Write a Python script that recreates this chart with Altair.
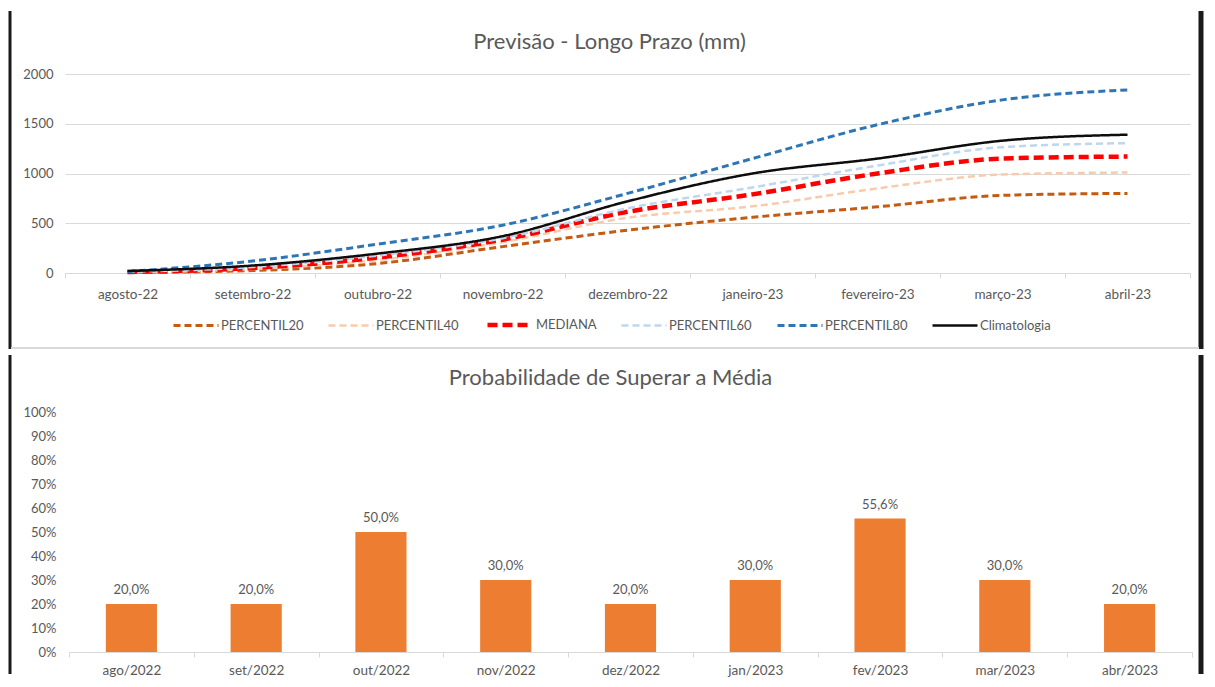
import altair as alt
import pandas as pd

# ---------------- data ----------------
meses = ["agosto-22", "setembro-22", "outubro-22", "novembro-22", "dezembro-22",
         "janeiro-23", "fevereiro-23", "março-23", "abril-23"]
series_names = ["PERCENTIL20", "PERCENTIL40", "MEDIANA", "PERCENTIL60", "PERCENTIL80", "Climatologia"]
percentil20 = [5, 25, 95, 265, 430, 560, 665, 780, 800]
percentil40 = [8, 40, 130, 310, 555, 670, 850, 990, 1010]
mediana = [10, 50, 155, 335, 615, 790, 1000, 1150, 1170]
percentil60 = [12, 60, 175, 350, 650, 860, 1080, 1265, 1305]
percentil80 = [15, 120, 290, 480, 800, 1150, 1490, 1740, 1840]
climatologia = [20, 75, 195, 370, 720, 1000, 1150, 1330, 1390]

meses_bar = ["ago/2022", "set/2022", "out/2022", "nov/2022", "dez/2022",
             "jan/2023", "fev/2023", "mar/2023", "abr/2023"]
prob_superar = [20.0, 20.0, 50.0, 30.0, 20.0, 30.0, 55.6, 30.0, 20.0]

# ---------------- styles ----------------
series_colors = ["#C55A11", "#F8CBAD", "#FF0000", "#BDD7EE", "#2E75B6", "#0D0D0D"]
series_dash = [[7, 4], [7, 4], [10, 5], [7, 4], [7, 4], [1, 0]]
series_width = [3, 2.5, 4.5, 2.5, 3, 2.5]
FONT = "Lato"
GRAY = "#595959"
LIGHT = "#D9D9D9"
FRAME = "#1A1A1A"

series_values = [percentil20, percentil40, mediana, percentil60, percentil80, climatologia]
rows = []
for name, vals in zip(series_names, series_values):
    for m, v in zip(meses, vals):
        rows.append({"mes": m, "serie": name, "valor": v})
df_lines = pd.DataFrame(rows)

df_bar = pd.DataFrame({"mes": meses_bar, "prob": prob_superar})
df_bar["frac"] = df_bar["prob"] / 100.0
df_bar["rotulo"] = [f"{v:.1f}".replace(".", ",") + "%" for v in prob_superar]

one = pd.DataFrame({"k": [0]})

W_TOP, H_TOP = 1125, 199
W_BOT, H_BOT = 1127, 240
BOT_SHIFT = 4  # bottom plot area starts 4px right of the top one

# ---------------- top chart ----------------
leg = alt.Legend(orient="none", legendX=107, legendY=226, direction="horizontal",
                 symbolType="stroke", symbolSize=2025, labelFont=FONT, labelFontSize=13,
                 labelColor=GRAY, columnPadding=19, labelOffset=1, padding=0)

x_top = alt.X("mes:N", sort=meses, title=None,
              scale=alt.Scale(type="band", paddingInner=0, paddingOuter=0),
              axis=alt.Axis(labelAngle=0, labelFont=FONT, labelFontSize=13.5, labelColor=GRAY,
                            tickBand="extent", tickSize=5, tickColor=LIGHT, domainColor=LIGHT,
                            labelPadding=9, grid=False))

lines = alt.Chart(df_lines).mark_line(interpolate="monotone").encode(
    x=x_top,
    y=alt.Y("valor:Q", title=None, scale=alt.Scale(domain=[0, 2000], nice=False),
            axis=alt.Axis(values=[0, 500, 1000, 1500, 2000], grid=True, gridColor=LIGHT,
                          domain=False, ticks=False, labelPadding=12, labelFont=FONT,
                          labelFontSize=13, labelColor=GRAY, format="d")),
    color=alt.Color("serie:N", title=None,
                    scale=alt.Scale(domain=series_names, range=series_colors), legend=leg),
    strokeDash=alt.StrokeDash("serie:N", title=None,
                              scale=alt.Scale(domain=series_names, range=series_dash), legend=leg),
    strokeWidth=alt.StrokeWidth("serie:N", title=None,
                                scale=alt.Scale(type="ordinal", domain=series_names, range=series_width),
                                legend=leg),
)

top_left = alt.Chart(one).mark_rule(color=FRAME, strokeWidth=3).encode(
    x=alt.value(-55), y=alt.value(-63), y2=alt.value(275))
top_right = alt.Chart(one).mark_rule(color=FRAME, strokeWidth=5).encode(
    x=alt.value(1136), y=alt.value(-63), y2=alt.value(275))
top_sep = alt.Chart(one).mark_rule(color=LIGHT, strokeWidth=2).encode(
    x=alt.value(-54), x2=alt.value(1134), y=alt.value(274))

top = alt.layer(lines, top_left, top_right, top_sep).properties(
    width=W_TOP, height=H_TOP,
    title=alt.TitleParams("Previsão - Longo Prazo (mm)", font=FONT, fontSize=22,
                          fontWeight="normal", color=GRAY, anchor="middle", offset=-45, dx=-18))

# ---------------- bottom chart ----------------
x_bot = alt.X("mes:N", sort=meses_bar, title=None,
              scale=alt.Scale(type="band", paddingInner=0, paddingOuter=0,
                              range=[BOT_SHIFT, W_BOT]),
              axis=alt.Axis(labelAngle=0, labelFont=FONT, labelFontSize=13.5, labelColor=GRAY,
                            tickBand="extent", tickSize=5, tickColor=LIGHT, domainColor=LIGHT,
                            labelPadding=6, grid=False))
y_bot = alt.Y("frac:Q", title=None, scale=alt.Scale(domain=[0, 1], nice=False),
              axis=alt.Axis(values=[0, 0.1, 0.2, 0.3, 0.4, 0.5, 0.6, 0.7, 0.8, 0.9, 1.0],
                            format=".0%", grid=False, domain=False, ticks=False, labelPadding=9,
                            labelFont=FONT, labelFontSize=13, labelColor=GRAY))

bars = alt.Chart(df_bar).mark_bar(color="#ED7D31", width=alt.RelativeBandSize(0.41)).encode(
    x=x_bot, y=y_bot)
labels = alt.Chart(df_bar).mark_text(dy=-14, baseline="middle", font=FONT, fontSize=13,
                                      color=GRAY).encode(x=x_bot, y=y_bot, text="rotulo:N")

bot_left = alt.Chart(one).mark_rule(color=FRAME, strokeWidth=3).encode(
    x=alt.value(-55), y=alt.value(-57), y2=alt.value(262))
bot_right = alt.Chart(one).mark_rule(color=FRAME, strokeWidth=5).encode(
    x=alt.value(1136), y=alt.value(-57), y2=alt.value(262))

bottom = alt.layer(bars, labels, bot_left, bot_right).properties(
    width=W_BOT, height=H_BOT,
    title=alt.TitleParams("Probabilidade de Superar a Média", font=FONT, fontSize=22,
                          fontWeight="normal", color=GRAY, anchor="middle", offset=-37, dx=-18))

chart = alt.vconcat(top, bottom, spacing=0).properties(padding=0).configure_view(strokeWidth=0)

chart.save("out.html", embed_options={"renderer": "svg", "actions": False})
